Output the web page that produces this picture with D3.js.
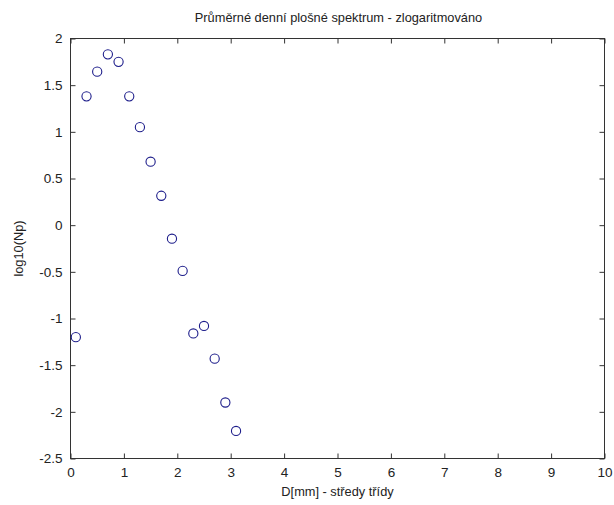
<!DOCTYPE html>
<html>
<head>
<meta charset="utf-8">
<script src="https://cdn.jsdelivr.net/npm/d3@7"></script>
<style>
  html, body { margin: 0; padding: 0; background: #fff; }
  svg { display: block; }
  text { font-family: "Liberation Sans", Arial, sans-serif; fill: #222; }
</style>
</head>
<body>
<svg id="chart" width="614" height="505"></svg>
<script>
// Class centres D [mm] and the log10 of the mean daily areal spectrum
const diameters = [0.1, 0.3, 0.5, 0.7, 0.9, 1.1, 1.3, 1.5, 1.7, 1.9, 2.1, 2.3, 2.5, 2.7, 2.9, 3.1];
const logNp = [-1.20, 1.38, 1.645, 1.83, 1.75, 1.38, 1.05, 0.68, 0.315, -0.145, -0.49, -1.16, -1.08, -1.43, -1.90, -2.205];
const xTicks = [0, 1, 2, 3, 4, 5, 6, 7, 8, 9, 10];
const yTicks = [-2.5, -2, -1.5, -1, -0.5, 0, 0.5, 1, 1.5, 2];

const titleText = "Průměrné denní plošné spektrum - zlogaritmováno";
const xLabel = "D[mm] - středy třídy";
const yLabel = "log10(Np)";

const svg = d3.select("#chart");
const plotL = 70.5, plotR = 604.5, plotT = 38.5, plotB = 458.5;

const x = d3.scaleLinear().domain([0, 10]).range([plotL, plotR]);
const y = d3.scaleLinear().domain([-2.5, 2]).range([plotB, plotT]);

const tickLen = 5;
const axisColor = "#333";
const tickFont = 13.5;
const labelFont = 12.8;

// axes box
svg.append("rect")
  .attr("x", plotL).attr("y", plotT)
  .attr("width", plotR - plotL).attr("height", plotB - plotT)
  .attr("fill", "none").attr("stroke", axisColor).attr("stroke-width", 1);

// bottom axis with inward ticks
const gx = svg.append("g").attr("transform", `translate(0,${plotB})`)
  .call(d3.axisBottom(x).tickValues(xTicks).tickSizeInner(-tickLen).tickSizeOuter(0).tickPadding(8).tickFormat(d3.format("d")));
// top axis ticks
const gxt = svg.append("g").attr("transform", `translate(0,${plotT})`)
  .call(d3.axisTop(x).tickValues(xTicks).tickSizeInner(-tickLen).tickSizeOuter(0).tickFormat(""));
// left axis
const gy = svg.append("g").attr("transform", `translate(${plotL},0)`)
  .call(d3.axisLeft(y).tickValues(yTicks).tickSizeInner(-tickLen).tickSizeOuter(0).tickPadding(8).tickFormat(d => String(d)));
// right axis ticks
const gyr = svg.append("g").attr("transform", `translate(${plotR},0)`)
  .call(d3.axisRight(y).tickValues(yTicks).tickSizeInner(-tickLen).tickSizeOuter(0).tickFormat(""));

[gx, gxt, gy, gyr].forEach(g => {
  g.select(".domain").remove();
  g.selectAll(".tick line").attr("stroke", axisColor);
  g.selectAll(".tick text").attr("font-size", tickFont).attr("fill", "#222")
    .attr("font-family", "\"Liberation Sans\", Arial, sans-serif");
});
gx.selectAll(".tick text").attr("dy", "0.75em");

// data markers
svg.append("g").selectAll("circle")
  .data(diameters.map((d, i) => [d, logNp[i]]))
  .join("circle")
  .attr("cx", d => x(d[0]))
  .attr("cy", d => y(d[1]))
  .attr("r", 4.6)
  .attr("fill", "none")
  .attr("stroke", "#1c1c8a")
  .attr("stroke-width", 1.1);

// title and axis labels
svg.append("text").attr("x", (plotL + plotR) / 2 + 1).attr("y", 22)
  .attr("text-anchor", "middle").attr("font-size", labelFont).text(titleText);
svg.append("text").attr("x", (plotL + plotR) / 2).attr("y", 496)
  .attr("text-anchor", "middle").attr("font-size", labelFont).text(xLabel);
svg.append("text").attr("transform", `translate(23,${(plotT + plotB) / 2}) rotate(-90)`)
  .attr("text-anchor", "middle").attr("font-size", labelFont).text(yLabel);
</script>
</body>
</html>
